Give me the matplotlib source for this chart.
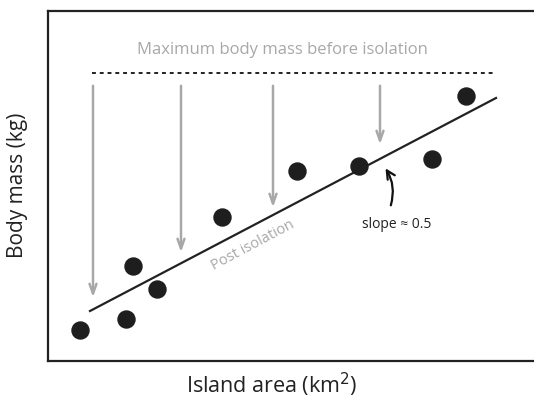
import matplotlib
matplotlib.use('Agg')
import matplotlib.pyplot as plt

# islands: positions (x = area, y = body mass, arbitrary units)
area = [80, 126, 133, 157, 222, 297, 359, 432, 466]
mass = [70, 81, 134, 111, 183, 229, 234, 241, 304]

# fitted post-isolation line (two end points)
fit_x = [90, 496]
fit_y = [89, 302]

# level of max body mass before isolation
max_mass = 327
max_x = [92, 496]

# arrows from max mass down to post-isolation line
arrow_x = [93, 181, 273, 380]
arrow_top = [317, 317, 317, 317]
arrow_bottom = [100, 145, 190, 253]

gray = '#a8a8a8'
plt.rcParams['font.family'] = ['Open Sans', 'DejaVu Sans']

fig = plt.figure(figsize=(5.34, 4.0), dpi=100)
ax = fig.add_axes([48 / 534, 39 / 400, 1 - 48 / 534, 350 / 400])
ax.set_xlim(48, 534)
ax.set_ylim(39, 389)
ax.set_xticks([])
ax.set_yticks([])
for s in ['left', 'bottom', 'top']:
    ax.spines[s].set_linewidth(1.6)
    ax.spines[s].set_color('#222222')
ax.spines['right'].set_visible(False)

ax.plot(max_x, [max_mass, max_mass], color='#222222', lw=1.4, linestyle=(0, (2, 2)))
ax.text(282, 350, 'Maximum body mass before isolation', color=gray, fontsize=12,
        ha='center', va='center')

for x, t, b in zip(arrow_x, arrow_top, arrow_bottom):
    ax.annotate('', xy=(x, b), xytext=(x, t),
                arrowprops=dict(arrowstyle='->,head_length=0.7,head_width=0.25',
                                color=gray, lw=1.8))

ax.plot(fit_x, fit_y, color='#222222', lw=1.6)
ax.scatter(area, mass, s=150, color='#1e1e1e', zorder=3)

ax.text(253, 155, 'Post isolation', color=gray, fontsize=10.5, rotation=28,
        ha='center', va='center')

ax.annotate('', xy=(384, 234), xytext=(390, 192),
            arrowprops=dict(arrowstyle='->,head_length=0.6,head_width=0.3',
                            color='#111111', lw=1.6,
                            connectionstyle='arc3,rad=0.25'))
ax.text(397, 176, 'slope ≈ 0.5', color='#222222', fontsize=10,
        ha='center', va='center')

fig.text(18 / 534, 1 - 185 / 400, 'Body mass (kg)', rotation=90, fontsize=15,
         ha='center', va='center', color='#222222')
fig.text(272 / 534, 1 - 385 / 400, 'Island area (km$^2$)', fontsize=15.5,
         ha='center', va='center', color='#222222')

fig.savefig('out.png', dpi=100)
